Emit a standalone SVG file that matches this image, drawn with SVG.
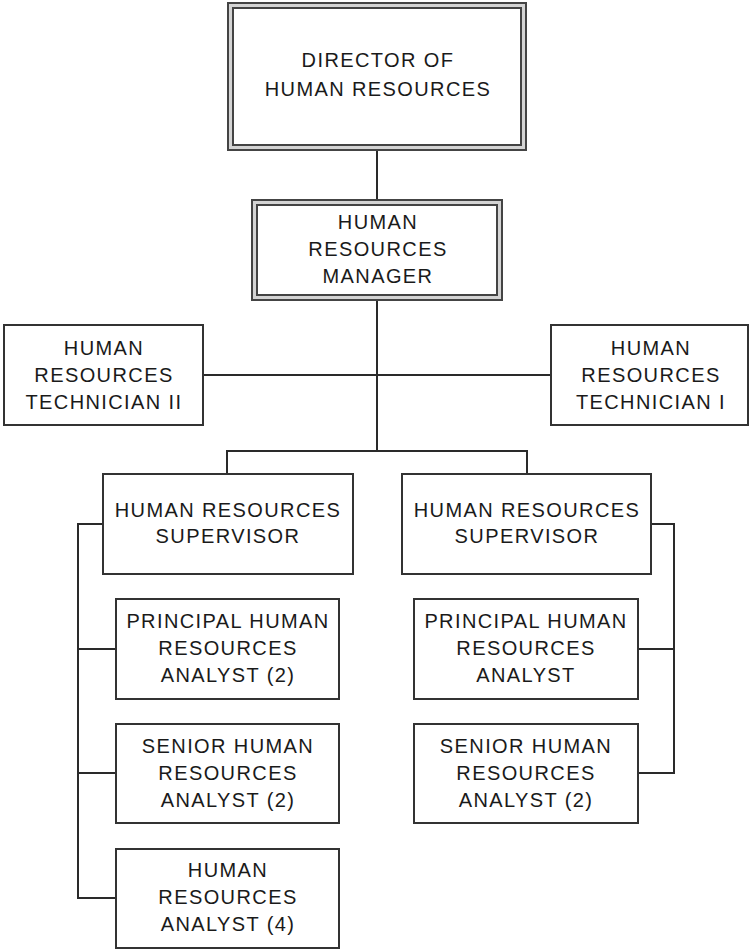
<svg xmlns="http://www.w3.org/2000/svg" width="749" height="949" viewBox="0 0 749 949">
<style>
.box{fill:#fff;stroke:#333;stroke-width:2}
.outer{fill:#d4d4d4;stroke:#444;stroke-width:2}
.inner{fill:#fff;stroke:#444;stroke-width:2}
.conn{fill:none;stroke:#2a2a2a;stroke-width:2}
text{font-family:"Liberation Sans",Arial,sans-serif;font-size:20px;letter-spacing:1.4px;fill:#1a1a1a;text-anchor:middle}
</style>
<rect width="749" height="949" fill="#fff"/>
<g id="connectors">
<line class="conn" x1="377" y1="150" x2="377" y2="200"/>
<line class="conn" x1="377" y1="300" x2="377" y2="451"/>
<line class="conn" x1="203" y1="375" x2="551" y2="375"/>
<polyline class="conn" points="227,474 227,451 527,451 527,474"/>
<polyline class="conn" points="103,524 78,524 78,898 116,898"/>
<line class="conn" x1="78" y1="649" x2="116" y2="649"/>
<line class="conn" x1="78" y1="773" x2="116" y2="773"/>
<polyline class="conn" points="651,524 674,524 674,773 638,773"/>
<line class="conn" x1="638" y1="649" x2="674" y2="649"/>
</g>
<g id="director">
<rect class="outer" x="228" y="3" width="298" height="147"/>
<rect class="inner" x="233" y="8" width="288" height="137"/>
<text x="378" y="67">DIRECTOR OF</text>
<text x="378" y="96">HUMAN RESOURCES</text>
</g>
<g id="manager">
<rect class="outer" x="252" y="200" width="250" height="100"/>
<rect class="inner" x="257" y="205" width="240" height="90"/>
<text x="378" y="229">HUMAN</text>
<text x="378" y="256">RESOURCES</text>
<text x="378" y="283">MANAGER</text>
</g>
<g id="tech2">
<rect class="box" x="4" y="325" width="199" height="100"/>
<text x="104" y="355">HUMAN</text>
<text x="104" y="382">RESOURCES</text>
<text x="104" y="409">TECHNICIAN II</text>
</g>
<g id="tech1">
<rect class="box" x="551" y="325" width="197" height="100"/>
<text x="651" y="355">HUMAN</text>
<text x="651" y="382">RESOURCES</text>
<text x="651" y="409">TECHNICIAN I</text>
</g>
<g id="supervisor-left">
<rect class="box" x="103" y="474" width="250" height="100"/>
<text x="228" y="517">HUMAN RESOURCES</text>
<text x="228" y="543">SUPERVISOR</text>
</g>
<g id="supervisor-right">
<rect class="box" x="402" y="474" width="249" height="100"/>
<text x="527" y="517">HUMAN RESOURCES</text>
<text x="527" y="543">SUPERVISOR</text>
</g>
<g id="principal-left">
<rect class="box" x="116" y="599" width="223" height="100"/>
<text x="228" y="628">PRINCIPAL HUMAN</text>
<text x="228" y="655">RESOURCES</text>
<text x="228" y="682">ANALYST (2)</text>
</g>
<g id="senior-left">
<rect class="box" x="116" y="724" width="223" height="99"/>
<text x="228" y="753">SENIOR HUMAN</text>
<text x="228" y="780">RESOURCES</text>
<text x="228" y="807">ANALYST (2)</text>
</g>
<g id="analyst-left">
<rect class="box" x="116" y="849" width="223" height="99"/>
<text x="228" y="877">HUMAN</text>
<text x="228" y="904">RESOURCES</text>
<text x="228" y="931">ANALYST (4)</text>
</g>
<g id="principal-right">
<rect class="box" x="414" y="599" width="224" height="100"/>
<text x="526" y="628">PRINCIPAL HUMAN</text>
<text x="526" y="655">RESOURCES</text>
<text x="526" y="682">ANALYST</text>
</g>
<g id="senior-right">
<rect class="box" x="414" y="724" width="224" height="99"/>
<text x="526" y="753">SENIOR HUMAN</text>
<text x="526" y="780">RESOURCES</text>
<text x="526" y="807">ANALYST (2)</text>
</g>
</svg>
